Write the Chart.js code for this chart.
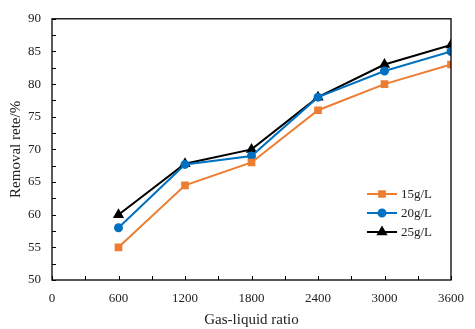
<!DOCTYPE html>
<html>
<head>
<meta charset="utf-8">
<script src="https://cdn.jsdelivr.net/npm/chart.js@4.4.1/dist/chart.umd.min.js"></script>
<style>
  html, body { margin: 0; padding: 0; background: #fff; }
  #wrap { width: 475px; height: 329px; }
</style>
</head>
<body>
<div id="wrap"><canvas id="chart"></canvas></div>
<script>

// DATA

const gasLiquidRatio = [600, 1200, 1800, 2400, 3000, 3600];

const removal15 = [55, 64.5, 68, 76, 80, 83];
const removal20 = [58, 67.7, 69, 78, 82, 85];
const removal25 = [60, 67.8, 70, 78, 83, 86];

const seriesNames = ["15g/L", "20g/L", "25g/L"];

const xTicks = [0, 600, 1200, 1800, 2400, 3000, 3600];
const yTicks = [50, 55, 60, 65, 70, 75, 80, 85, 90];



const FONT = "'Liberation Serif', 'Times New Roman', serif";

function toPoints(values) {
  return gasLiquidRatio.map((x, i) => ({ x: x, y: values[i] }));
}



// FRAME + INSIDE TICKS

const framePlugin = {
  id: "frame",
  afterDatasetsDraw(chart) {
    const ctx = chart.ctx;
    const a = chart.chartArea;
    const xs = chart.scales.x;
    const ys = chart.scales.y;

    ctx.save();
    ctx.strokeStyle = "#000";
    ctx.lineWidth = 1.3;
    ctx.strokeRect(a.left, a.top, a.right - a.left, a.bottom - a.top);

    ctx.lineWidth = 1;
    ctx.beginPath();
    for (let v = 0; v <= 3600; v += 300) {
      const px = Math.round(xs.getPixelForValue(v)) + 0.5;
      ctx.moveTo(px, a.bottom);
      ctx.lineTo(px, a.bottom - 4);
    }
    for (let v = 50; v <= 90; v += 2.5) {
      const py = Math.round(ys.getPixelForValue(v)) + 0.5;
      ctx.moveTo(a.left, py);
      ctx.lineTo(a.left + 4, py);
    }
    ctx.stroke();
    ctx.restore();
  }
};



// LEGEND

const legendPlugin = {
  id: "lineLegend",
  afterDraw(chart) {
    const ctx = chart.ctx;
    const x0 = 367;
    const y0 = 194;
    const gap = 19;

    ctx.save();
    chart.data.datasets.forEach((ds, i) => {
      const y = y0 + i * gap;

      ctx.strokeStyle = ds.borderColor;
      ctx.lineWidth = 2;
      ctx.beginPath();
      ctx.moveTo(x0, y);
      ctx.lineTo(x0 + 30, y);
      ctx.stroke();

      Chart.helpers.drawPoint(ctx, {
        pointStyle: ds.pointStyle,
        radius: ds.pointRadius,
        rotation: 0,
        borderWidth: 1
      }, x0 + 15, y);
      ctx.fillStyle = ds.pointBackgroundColor;
      ctx.fill();

      ctx.fillStyle = "#222";
      ctx.font = "13px " + FONT;
      ctx.textBaseline = "middle";
      ctx.textAlign = "left";
      ctx.fillText(ds.label, x0 + 34, y + 1);
    });
    ctx.restore();
  }
};



// CHART

new Chart(document.getElementById("chart"), {

  type: "line",

  data: {

    datasets: [
      {
        label: seriesNames[0],
        data: toPoints(removal15),
        borderColor: "#ED7D31",
        backgroundColor: "#ED7D31",
        pointBackgroundColor: "#ED7D31",
        pointBorderColor: "#ED7D31",
        pointStyle: "rect",
        pointRadius: 4,
        borderWidth: 2,
        tension: 0
      },
      {
        label: seriesNames[1],
        data: toPoints(removal20),
        borderColor: "#0070C0",
        backgroundColor: "#0070C0",
        pointBackgroundColor: "#0070C0",
        pointBorderColor: "#0070C0",
        pointStyle: "circle",
        pointRadius: 3.5,
        borderWidth: 2,
        tension: 0
      },
      {
        label: seriesNames[2],
        data: toPoints(removal25),
        borderColor: "#000000",
        backgroundColor: "#000000",
        pointBackgroundColor: "#000000",
        pointBorderColor: "#000000",
        pointStyle: "triangle",
        pointRadius: 4.5,
        borderWidth: 2,
        tension: 0
      }
    ]
  },

  options: {

    responsive: true,
    maintainAspectRatio: false,
    animation: false,
    devicePixelRatio: 1,

    layout: {
      padding: { top: 17, right: 15, left: 0, bottom: 0 }
    },

    plugins: {
      legend: { display: false },
      tooltip: { enabled: false }
    },

    scales: {

      x: {
        type: "linear",
        min: 0,
        max: 3600,
        afterBuildTicks: scale => {
          scale.ticks = xTicks.map(v => ({ value: v }));
        },
        afterFit: scale => { scale.height = 49; },
        grid: { display: false, drawTicks: false },
        border: { display: false },
        ticks: {
          color: "#222",
          padding: 11,
          maxRotation: 0,
          callback: v => String(v),
          font: { family: FONT, size: 13 }
        },
        title: {
          display: true,
          text: "Gas-liquid ratio",
          color: "#222",
          padding: { top: 6, bottom: 0 },
          font: { family: FONT, size: 15 }
        }
      },

      y: {
        type: "linear",
        min: 50,
        max: 90,
        afterBuildTicks: scale => {
          scale.ticks = yTicks.map(v => ({ value: v }));
        },
        afterFit: scale => { scale.width = 52; },
        grid: { display: false, drawTicks: false },
        border: { display: false },
        ticks: {
          color: "#222",
          padding: 11,
          callback: v => String(v),
          font: { family: FONT, size: 13 }
        },
        title: {
          display: true,
          text: "Removal rete/%",
          color: "#222",
          padding: { top: 7, bottom: 0 },
          font: { family: FONT, size: 15 }
        }
      }

    }

  },

  plugins: [framePlugin, legendPlugin]

});

</script>
</body>
</html>
